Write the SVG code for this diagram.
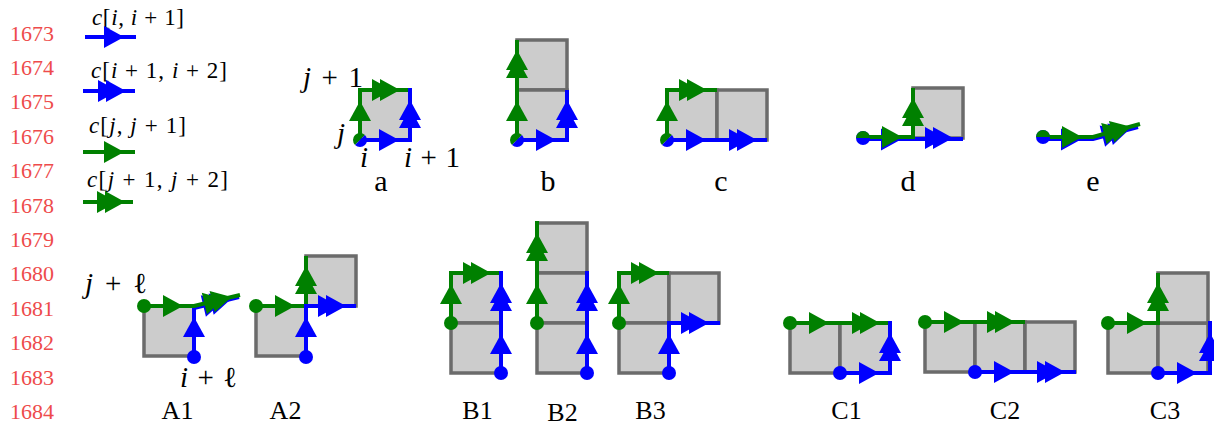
<svg xmlns="http://www.w3.org/2000/svg" xmlns:xlink="http://www.w3.org/1999/xlink" width="1214" height="427" viewBox="0 0 1214 427">
<style>
text{font-family:"Liberation Serif","DejaVu Serif",serif;fill:#000}
.ln{font-size:22px;fill:#ee4b4b}
.it{font-style:italic}
.lg{font-size:23px}
.m{font-size:29px}
.tl{font-size:30px;text-anchor:middle}
.bl{font-size:26px;text-anchor:middle}
.sq{fill:#cccccc;stroke:#6b6b6b;stroke-width:3.5}
.b{stroke:#0000ff;stroke-width:4;fill:none}
.g{stroke:#008000;stroke-width:4;fill:none}
.bf{fill:#0000ff}
.gf{fill:#008000}
</style>
<defs>
<path id="s" d="M-6,-11 L14,0 L-6,11 Z"/>
<path id="d" d="M-13,-11 L7,0 L-13,11 Z M-5,-11 L15,0 L-5,11 Z"/>
</defs>

<g id="linenumbers">
<text class="ln" x="10" y="40.5">1673</text>
<text class="ln" x="10" y="74.9">1674</text>
<text class="ln" x="10" y="109.3">1675</text>
<text class="ln" x="10" y="143.7">1676</text>
<text class="ln" x="10" y="178.1">1677</text>
<text class="ln" x="10" y="212.5">1678</text>
<text class="ln" x="10" y="246.9">1679</text>
<text class="ln" x="10" y="281.3">1680</text>
<text class="ln" x="10" y="315.7">1681</text>
<text class="ln" x="10" y="350.1">1682</text>
<text class="ln" x="10" y="384.5">1683</text>
<text class="ln" x="10" y="418.9">1684</text>
</g>

<g id="legend">
<text class="lg" x="92" y="25" textLength="92" lengthAdjust="spacing"><tspan class="it">c</tspan>[<tspan class="it">i</tspan>, <tspan class="it">i</tspan> + 1]</text>
<line class="b" x1="85" y1="37" x2="136" y2="37"/>
<use href="#s" class="bf" transform="translate(110,37)"/>
<text class="lg" x="91" y="78" textLength="136" lengthAdjust="spacing"><tspan class="it">c</tspan>[<tspan class="it">i</tspan> + 1, <tspan class="it">i</tspan> + 2]</text>
<line class="b" x1="83" y1="91" x2="135" y2="91"/>
<use href="#d" class="bf" transform="translate(111,91)"/>
<text class="lg" x="89" y="133" textLength="97" lengthAdjust="spacing"><tspan class="it">c</tspan>[<tspan class="it">j</tspan>, <tspan class="it">j</tspan> + 1]</text>
<line class="g" x1="83" y1="152" x2="135" y2="152"/>
<use href="#s" class="gf" transform="translate(110,152)"/>
<text class="lg" x="87" y="187" textLength="141" lengthAdjust="spacing"><tspan class="it">c</tspan>[<tspan class="it">j</tspan> + 1, <tspan class="it">j</tspan> + 2]</text>
<line class="g" x1="83" y1="202" x2="133" y2="202"/>
<use href="#d" class="gf" transform="translate(110,202)"/>
</g>

<g id="fig-a">
<rect class="sq" x="360" y="90" width="50" height="50"/>
<path class="g" d="M360,140 V90 H410"/>
<use href="#s" class="gf" transform="translate(360,115) rotate(-90)"/>
<use href="#d" class="gf" transform="translate(385,90)"/>
<path class="b" d="M360,140 H410 V88"/>
<use href="#s" class="bf" transform="translate(385,140)"/>
<use href="#d" class="bf" transform="translate(410,115) rotate(-90)"/>
<path class="gf" d="M364.95,135.05 A7,7 0 0 0 355.05,144.95 Z"/>
<path class="bf" d="M364.95,135.05 A7,7 0 0 1 355.05,144.95 Z"/>
<text class="m" x="303" y="87" textLength="60" lengthAdjust="spacing"><tspan class="it">j</tspan> + 1</text>
<text class="m it" x="337" y="143">j</text>
<text class="m it" x="360" y="167">i</text>
<text class="m" x="404" y="167" textLength="56" lengthAdjust="spacing"><tspan class="it">i</tspan> + 1</text>
<text class="tl" x="381" y="191">a</text>
</g>

<g id="fig-b">
<rect class="sq" x="517" y="40" width="50" height="50"/>
<rect class="sq" x="517" y="90" width="50" height="50"/>
<path class="g" d="M517,140 V40"/>
<use href="#s" class="gf" transform="translate(517,115) rotate(-90)"/>
<use href="#d" class="gf" transform="translate(517,65) rotate(-90)"/>
<path class="b" d="M517,140 H567 V90"/>
<use href="#s" class="bf" transform="translate(542,140)"/>
<use href="#d" class="bf" transform="translate(567,115) rotate(-90)"/>
<path class="gf" d="M521.95,135.05 A7,7 0 0 0 512.05,144.95 Z"/>
<path class="bf" d="M521.95,135.05 A7,7 0 0 1 512.05,144.95 Z"/>
<text class="tl" x="548" y="191">b</text>
</g>

<g id="fig-c">
<rect class="sq" x="667" y="90" width="50" height="50"/>
<rect class="sq" x="717" y="90" width="50" height="50"/>
<path class="g" d="M667,140 V90 H717"/>
<use href="#s" class="gf" transform="translate(667,115) rotate(-90)"/>
<use href="#d" class="gf" transform="translate(692,90)"/>
<path class="b" d="M667,140 H767"/>
<use href="#s" class="bf" transform="translate(692,140)"/>
<use href="#d" class="bf" transform="translate(742,140)"/>
<path class="gf" d="M671.95,135.05 A7,7 0 0 0 662.05,144.95 Z"/>
<path class="bf" d="M671.95,135.05 A7,7 0 0 1 662.05,144.95 Z"/>
<text class="tl" x="721" y="191">c</text>
</g>

<g id="fig-d">
<rect class="sq" x="913" y="88" width="50" height="50"/>
<path class="b" d="M863,139 H963"/>
<use href="#s" class="bf" transform="translate(887,139.5)"/>
<use href="#d" class="bf" transform="translate(938,138)"/>
<path class="g" d="M863,137 H913 V88"/>
<use href="#s" class="gf" transform="translate(888,137)"/>
<use href="#d" class="gf" transform="translate(913,113) rotate(-90)"/>
<circle class="bf" cx="863" cy="138" r="7"/>
<path class="gf" d="M856,138 A7,7 0 0 1 870,138 Z"/>
<text class="tl" x="908" y="191">d</text>
</g>

<g id="fig-e">
<path class="b" d="M1043,139 H1093 L1138,127"/>
<use href="#s" class="bf" transform="translate(1067,139.5)"/>
<use href="#d" class="bf" transform="translate(1115,133) rotate(-14.3)"/>
<path class="g" d="M1043,137 H1093 L1140,124"/>
<use href="#s" class="gf" transform="translate(1068,137)"/>
<use href="#d" class="gf" transform="translate(1116.5,130.5) rotate(-14.3)"/>
<circle class="bf" cx="1043" cy="137" r="7"/>
<path class="gf" d="M1036,137 A7,7 0 0 1 1050,137 Z"/>
<text class="tl" x="1093" y="191">e</text>
</g>

<g id="fig-A1">
<rect class="sq" x="144" y="306" width="50" height="50"/>
<path class="b" d="M194,357 V308 L239,297"/>
<use href="#s" class="bf" transform="translate(194,331) rotate(-90)"/>
<use href="#d" class="bf" transform="translate(216,303) rotate(-13.4)"/>
<path class="g" d="M144,306 H194 L240,295"/>
<use href="#s" class="gf" transform="translate(169,306)"/>
<use href="#d" class="gf" transform="translate(217,300.5) rotate(-13.4)"/>
<circle class="gf" cx="144" cy="306" r="7"/>
<circle class="bf" cx="194" cy="357" r="7"/>
<text class="m" x="85" y="293" textLength="62" lengthAdjust="spacing"><tspan class="it">j</tspan> + ℓ</text>
<text class="m" x="180" y="387" textLength="57" lengthAdjust="spacing"><tspan class="it">i</tspan> + ℓ</text>
<text class="bl" x="177.5" y="419">A1</text>
</g>

<g id="fig-A2">
<rect class="sq" x="256" y="306" width="50" height="50"/>
<rect class="sq" x="306" y="256" width="50" height="50"/>
<path class="g" d="M256,306 H306 V256"/>
<use href="#s" class="gf" transform="translate(281,306)"/>
<use href="#d" class="gf" transform="translate(306,281) rotate(-90)"/>
<path class="b" d="M306,357 V306 H356"/>
<use href="#s" class="bf" transform="translate(306,331) rotate(-90)"/>
<use href="#d" class="bf" transform="translate(331,306)"/>
<circle class="gf" cx="256" cy="306" r="7"/>
<circle class="bf" cx="306" cy="357" r="7"/>
<text class="bl" x="285.5" y="419">A2</text>
</g>

<g id="fig-B1">
<rect class="sq" x="451" y="273" width="50" height="50"/>
<rect class="sq" x="451" y="323" width="50" height="50"/>
<path class="g" d="M451,323 V273 H501"/>
<use href="#s" class="gf" transform="translate(451,298) rotate(-90)"/>
<use href="#d" class="gf" transform="translate(476,273)"/>
<path class="b" d="M501,373 V271"/>
<use href="#s" class="bf" transform="translate(501,348) rotate(-90)"/>
<use href="#d" class="bf" transform="translate(501,298) rotate(-90)"/>
<circle class="gf" cx="451" cy="323" r="7"/>
<circle class="bf" cx="501" cy="373" r="7"/>
<text class="bl" x="477.5" y="419">B1</text>
</g>

<g id="fig-B2">
<rect class="sq" x="537" y="223" width="50" height="50"/>
<rect class="sq" x="537" y="273" width="50" height="50"/>
<rect class="sq" x="537" y="323" width="50" height="50"/>
<path class="g" d="M537,323 V221"/>
<use href="#s" class="gf" transform="translate(537,298) rotate(-90)"/>
<use href="#d" class="gf" transform="translate(537,248) rotate(-90)"/>
<path class="b" d="M587,373 V271"/>
<use href="#s" class="bf" transform="translate(587,348) rotate(-90)"/>
<use href="#d" class="bf" transform="translate(587,298) rotate(-90)"/>
<circle class="gf" cx="537" cy="323" r="7"/>
<circle class="bf" cx="587" cy="373" r="7"/>
<text class="bl" x="562.5" y="421">B2</text>
</g>

<g id="fig-B3">
<rect class="sq" x="619" y="273" width="50" height="50"/>
<rect class="sq" x="669" y="273" width="50" height="50"/>
<rect class="sq" x="619" y="323" width="50" height="50"/>
<path class="g" d="M619,323 V273 H669"/>
<use href="#s" class="gf" transform="translate(619,298) rotate(-90)"/>
<use href="#d" class="gf" transform="translate(644,273)"/>
<path class="b" d="M669,373 V323 H720"/>
<use href="#s" class="bf" transform="translate(669,348) rotate(-90)"/>
<use href="#d" class="bf" transform="translate(694,323)"/>
<circle class="gf" cx="619" cy="323" r="7"/>
<circle class="bf" cx="669" cy="373" r="7"/>
<text class="bl" x="650.5" y="419">B3</text>
</g>

<g id="fig-C1">
<rect class="sq" x="790" y="323" width="50" height="50"/>
<rect class="sq" x="840" y="323" width="50" height="50"/>
<path class="g" d="M790,323 H890"/>
<use href="#s" class="gf" transform="translate(815,323)"/>
<use href="#d" class="gf" transform="translate(865,323)"/>
<path class="b" d="M840,373 H890 V321"/>
<use href="#s" class="bf" transform="translate(865,373)"/>
<use href="#d" class="bf" transform="translate(890,348) rotate(-90)"/>
<circle class="gf" cx="790" cy="323" r="7"/>
<circle class="bf" cx="840" cy="373" r="7"/>
<text class="bl" x="846.5" y="419">C1</text>
</g>

<g id="fig-C2">
<rect class="sq" x="925" y="322" width="50" height="50"/>
<rect class="sq" x="975" y="322" width="50" height="50"/>
<rect class="sq" x="1025" y="322" width="50" height="50"/>
<path class="g" d="M925,322 H1025"/>
<use href="#s" class="gf" transform="translate(950,322)"/>
<use href="#d" class="gf" transform="translate(1000,322)"/>
<path class="b" d="M975,372 H1076"/>
<use href="#s" class="bf" transform="translate(1000,372)"/>
<use href="#d" class="bf" transform="translate(1050,372)"/>
<circle class="gf" cx="925" cy="322" r="7"/>
<circle class="bf" cx="975" cy="372" r="7"/>
<text class="bl" x="1005" y="419">C2</text>
</g>

<g id="fig-C3">
<rect class="sq" x="1108" y="323" width="50" height="50"/>
<rect class="sq" x="1158" y="323" width="50" height="50"/>
<rect class="sq" x="1158" y="273" width="50" height="50"/>
<path class="g" d="M1108,323 H1158 V273"/>
<use href="#s" class="gf" transform="translate(1133,323)"/>
<use href="#d" class="gf" transform="translate(1158,298) rotate(-90)"/>
<path class="b" d="M1158,373 H1210 V321"/>
<use href="#s" class="bf" transform="translate(1183,373)"/>
<use href="#d" class="bf" transform="translate(1210,348) rotate(-90)"/>
<circle class="gf" cx="1108" cy="323" r="7"/>
<circle class="bf" cx="1158" cy="373" r="7"/>
<text class="bl" x="1165" y="419">C3</text>
</g>
</svg>
